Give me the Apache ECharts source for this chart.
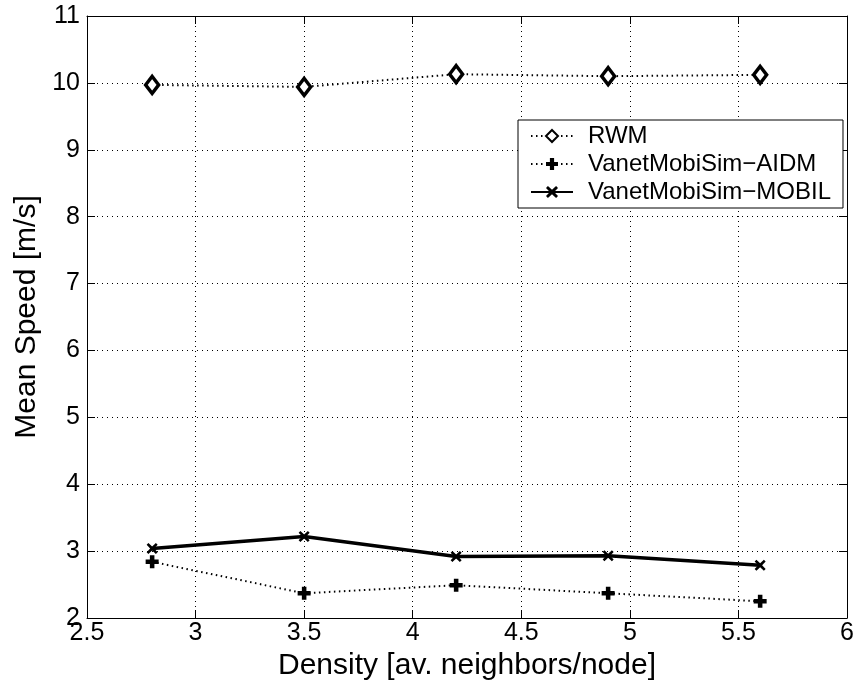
<!DOCTYPE html>
<html>
<head>
<meta charset="utf-8">
<script src="https://cdn.jsdelivr.net/npm/echarts@6/dist/echarts.min.js"></script>
<style>
  html, body { margin: 0; padding: 0; background: #fff; }
  #chart { width: 858px; height: 686px; }
</style>
</head>
<body>
<div id="chart"></div>
<script>
// data
const density = [2.8, 3.5, 4.2, 4.9, 5.6];
const rwm = [9.97, 9.94, 10.13, 10.10, 10.12];
const aidm = [2.84, 2.37, 2.49, 2.37, 2.25];
const mobil = [3.04, 3.22, 2.92, 2.93, 2.79];
const seriesNames = ["RWM", "VanetMobiSim\u2212AIDM", "VanetMobiSim\u2212MOBIL"];

const plusPath = "path://M3.25,0h3.5v3.25h3.25v3.5h-3.25v3.25h-3.5v-3.25h-3.25v-3.5h3.25z";
const crossPath = "path://M1.6,0L5,3.2L8.4,0L10,1.6L6.8,5L10,8.4L8.4,10L5,6.8L1.6,10L0,8.4L3.2,5L0,1.6z";
const font = "Liberation Sans, Arial, Helvetica, sans-serif";

function pairs(ys) {
    return density.map(function (x, i) { return [x, ys[i]]; });
}

document.addEventListener("DOMContentLoaded", function () {
    const chart = echarts.init(document.getElementById("chart"));

    const axisCommon = {
        axisLine: { onZero: false, lineStyle: { color: "#000", width: 1 } },
        axisTick: { inside: true, length: 8, lineStyle: { color: "#000" } },
        axisLabel: { color: "#000", fontSize: 25, fontFamily: font },
    };
    const nameStyle = { color: "#000", fontSize: 30, fontFamily: font };
    const gridDots = { show: true, lineStyle: { color: "#000", type: [1, 4], width: 1 } };

    const option = {
        animation: false,
        backgroundColor: "#fff",
        grid: { left: 87, right: 11, top: 16, bottom: 68 },
        legend: {
            left: 518, top: 120, orient: "vertical",
            padding: [4, 12, 4, 12],
            itemGap: 4, itemWidth: 42, itemHeight: 15,
            backgroundColor: "#fff",
            borderColor: "#000", borderWidth: 1, borderRadius: 0,
            textStyle: { color: "#000", fontSize: 24, fontFamily: font, padding: [0, 0, 0, 10] },
            data: seriesNames,
        },
        xAxis: [
            Object.assign({}, axisCommon, {
                type: "value", min: 2.5, max: 6, interval: 0.5,
                name: "Density [av. neighbors/node]", nameLocation: "middle", nameGap: 33,
                nameTextStyle: nameStyle,
                axisLabel: Object.assign({}, axisCommon.axisLabel, { margin: 3 }),
                splitLine: gridDots,
            }),
            Object.assign({}, axisCommon, {
                type: "value", min: 2.5, max: 6, interval: 0.5, position: "top",
                axisLabel: { show: false }, splitLine: { show: false },
            }),
        ],
        yAxis: [
            Object.assign({}, axisCommon, {
                type: "value", min: 2, max: 11, interval: 1,
                name: "Mean Speed [m/s]", nameLocation: "middle", nameGap: 44,
                nameTextStyle: nameStyle,
                axisLabel: Object.assign({}, axisCommon.axisLabel, { margin: 7 }),
                splitLine: gridDots,
            }),
            Object.assign({}, axisCommon, {
                type: "value", min: 2, max: 11, interval: 1, position: "right",
                axisLabel: { show: false }, splitLine: { show: false },
            }),
        ],
        series: [
            {
                name: seriesNames[0], type: "line", data: pairs(rwm),
                symbol: "diamond", symbolSize: [13, 17],
                itemStyle: { color: "#fff", borderColor: "#000", borderWidth: 3.5 },
                lineStyle: { color: "#000", width: 2, type: [1.5, 3.5] },
            },
            {
                name: seriesNames[1], type: "line", data: pairs(aidm),
                symbol: plusPath, symbolSize: 13,
                itemStyle: { color: "#000", borderWidth: 0 },
                lineStyle: { color: "#000", width: 2, type: [1.5, 3.5] },
            },
            {
                name: seriesNames[2], type: "line", data: pairs(mobil),
                symbol: crossPath, symbolSize: 11,
                itemStyle: { color: "#000", borderWidth: 0 },
                lineStyle: { color: "#000", width: 3.5 },
            },
        ],
    };

    chart.setOption(option);
});
</script>
</body>
</html>
